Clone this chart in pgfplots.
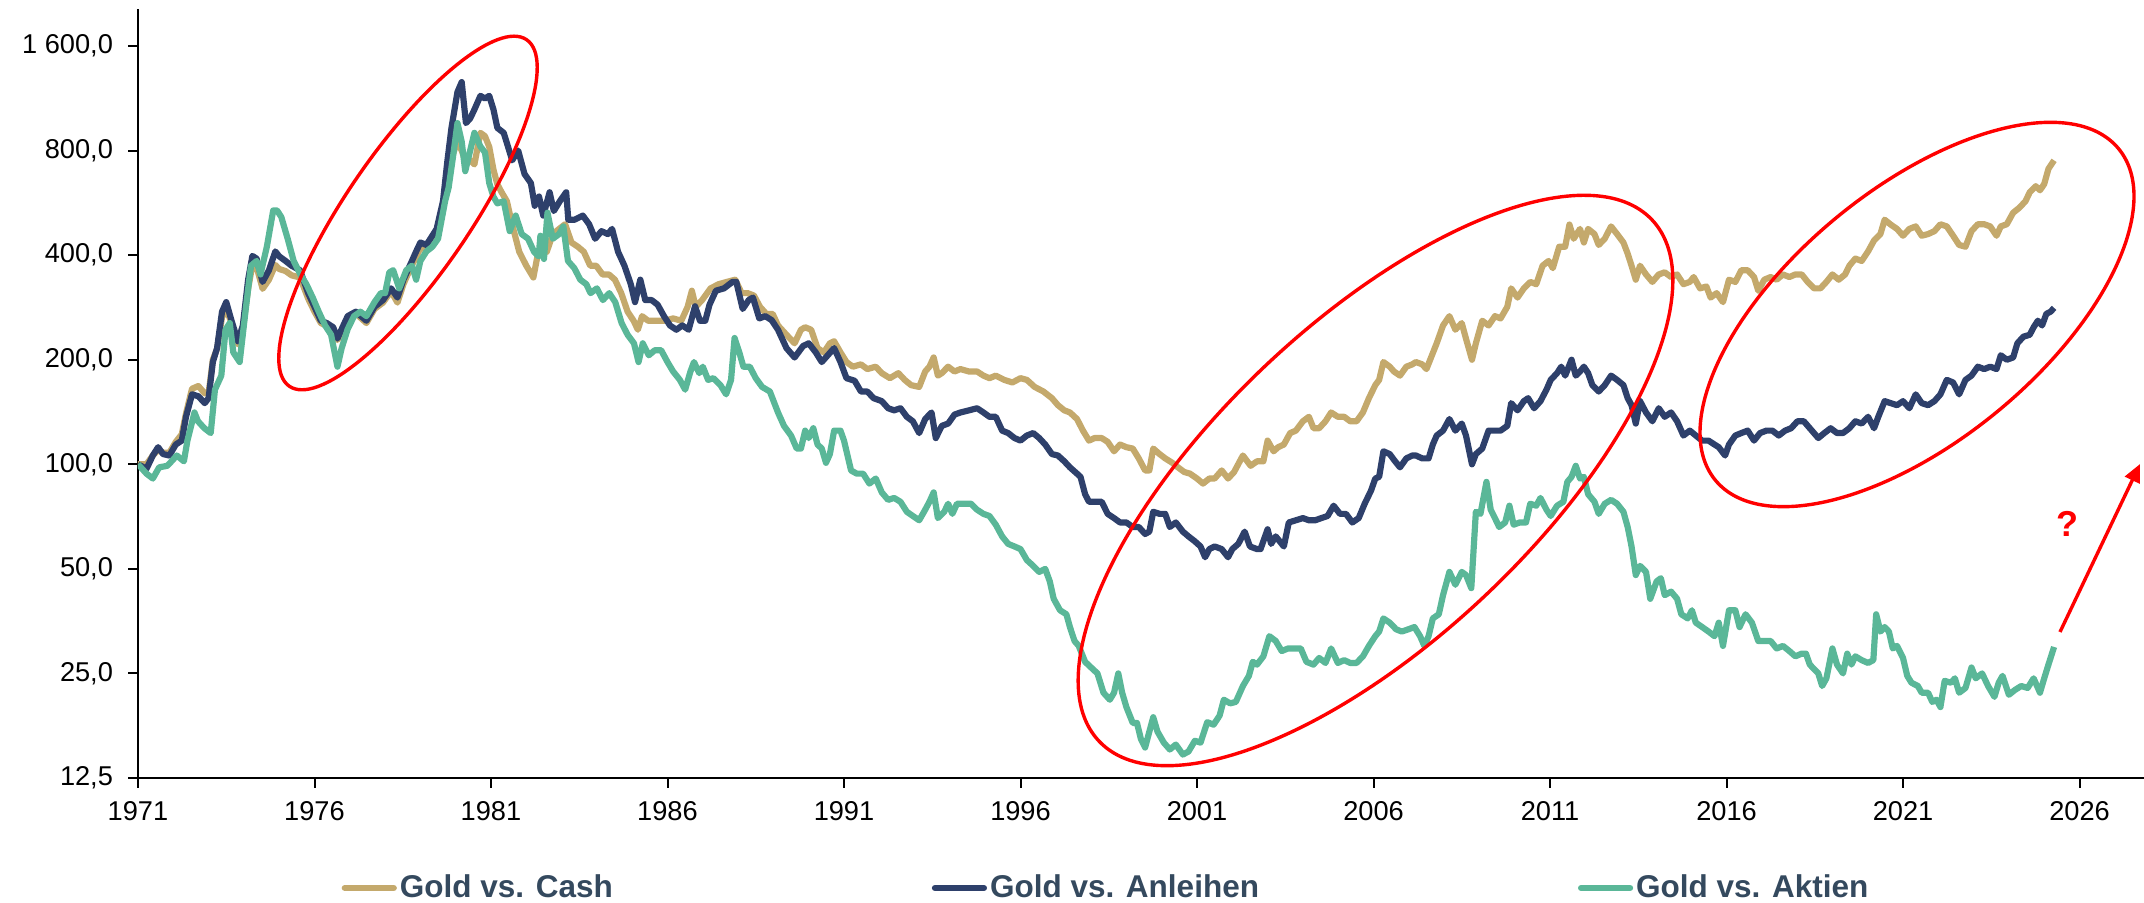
\documentclass[border=0pt]{standalone}
\usepackage{fontspec}
\setmainfont{Liberation Sans}
\usepackage{pgfplots}
\pgfplotsset{compat=1.18}
\usetikzlibrary{arrows.meta}

\definecolor{cashc}{RGB}{196,169,108}
\definecolor{bondc}{RGB}{46,64,107}
\definecolor{stockc}{RGB}{90,183,152}
\definecolor{legc}{RGB}{52,73,94}

\begin{document}
\begin{tikzpicture}
\path[use as bounding box] (-69pt,-62.5pt) rectangle (1003pt,389pt);
\begin{axis}[
    scale only axis,
    width=1003pt, height=384.6pt,
    xmin=1971, xmax=2027.83,
    ymode=log, log basis y=2,
    ymin=12.5, ymax=2048,
    axis lines*=left,
    axis line style={black, line width=1pt},
    tick style={black, line width=1pt},
    major tick length=5pt,
    tick align=outside,
    yminorticks=false, xminorticks=false,
    xtick={1971,1976,1981,1986,1991,1996,2001,2006,2011,2016,2021,2026},
    xticklabels={1971,1976,1981,1986,1991,1996,2001,2006,2011,2016,2021,2026},
    ytick={12.5,25,50,100,200,400,800,1600},
    yticklabels={{12,5},{25,0},{50,0},{100,0},{200,0},{400,0},{800,0},{1 600,0}},
    ticklabel style={font=\fontsize{13.6}{15}\selectfont},
    yticklabel style={xshift=-4pt},
    xticklabel style={yshift=-3pt},
    every axis plot/.append style={line width=3.1pt, line join=round, no markers},
    legend style={at={(0.4828,-0.143)}, anchor=center, draw=none, fill=none,
        legend columns=3, inner sep=0pt,
        font=\bfseries\fontsize{15.75}{18}\selectfont, text=legc,
        nodes={inner sep=1.5pt},
        /tikz/every even column/.append style={column sep=158pt}},
    legend image code/.code={\draw[#1, line cap=round] (0pt,0pt) -- (24.5pt,0pt);},
]
% Gold vs. Cash
\addplot[cashc] table {
1971.00 100
1971.24 100
1971.42 106
1971.57 110
1971.71 108
1971.89 108
1972.07 116
1972.24 122
1972.36 140
1972.53 165
1972.71 168
1972.89 160
1973.00 160
1973.12 200
1973.24 215
1973.38 265
1973.50 280
1973.65 255
1973.83 222
1973.97 245
1974.12 320
1974.24 375
1974.36 370
1974.53 320
1974.71 340
1974.89 375
1975.00 365
1975.18 360
1975.35 350
1975.59 345
1975.82 300
1976.00 275
1976.18 255
1976.35 250
1976.53 245
1976.65 228
1976.77 240
1976.94 262
1977.17 272
1977.47 255
1977.70 280
1977.94 292
1978.17 315
1978.35 292
1978.52 330
1978.76 375
1978.88 395
1979.00 420
1979.17 415
1979.46 455
1979.64 560
1979.76 650
1979.88 760
1980.05 850
1980.17 800
1980.29 740
1980.41 750
1980.53 730
1980.70 900
1980.83 880
1980.95 820
1981.07 705
1981.18 640
1981.30 607
1981.45 572
1981.60 490
1981.80 409
1982.00 373
1982.20 345
1982.34 409
1982.58 409
1982.75 460
1982.93 476
1983.10 491
1983.28 435
1983.46 423
1983.63 409
1983.81 373
1983.98 373
1984.16 352
1984.34 352
1984.51 340
1984.69 311
1984.87 275
1985.04 259
1985.16 244
1985.28 267
1985.45 259
1985.69 259
1985.92 259
1986.16 263
1986.39 259
1986.57 284
1986.69 316
1986.80 284
1986.98 297
1987.22 321
1987.45 330
1987.68 335
1987.92 340
1988.10 311
1988.27 311
1988.45 306
1988.62 284
1988.80 271
1988.98 271
1989.13 251
1989.37 236
1989.60 223
1989.78 244
1989.90 248
1990.07 244
1990.25 216
1990.43 210
1990.60 223
1990.72 226
1990.90 210
1991.07 197
1991.25 191
1991.48 194
1991.66 188
1991.90 191
1992.07 183
1992.30 177
1992.54 183
1992.72 175
1992.90 169
1993.13 167
1993.30 185
1993.42 191
1993.54 203
1993.66 180
1993.77 183
1993.95 191
1994.13 185
1994.30 188
1994.54 185
1994.77 185
1994.95 180
1995.12 177
1995.30 180
1995.54 175
1995.77 172
1996.00 177
1996.18 175
1996.40 167
1996.65 162
1996.89 155
1997.06 148
1997.24 143
1997.40 141
1997.60 135
1997.77 125
1997.94 117
1998.10 119
1998.30 119
1998.47 116
1998.65 109
1998.82 114
1999.00 112
1999.18 111
1999.35 104
1999.53 96
1999.65 96
1999.76 111
1999.94 107
2000.10 104
2000.30 101
2000.46 98
2000.64 95
2000.80 94
2001.00 91
2001.17 88
2001.35 91
2001.50 91
2001.70 96
2001.88 91
2002.05 95
2002.30 106
2002.52 99
2002.70 102
2002.88 102
2003.00 117
2003.17 109
2003.30 112
2003.46 114
2003.64 123
2003.80 125
2004.00 133
2004.17 137
2004.30 127
2004.46 127
2004.64 133
2004.80 141
2004.99 137
2005.17 137
2005.34 133
2005.52 133
2005.70 141
2005.87 155
2006.05 169
2006.16 175
2006.28 197
2006.46 191
2006.58 185
2006.75 180
2006.93 191
2007.10 194
2007.20 197
2007.38 194
2007.50 188
2007.68 209
2007.79 223
2007.97 251
2008.15 267
2008.32 244
2008.50 255
2008.62 230
2008.79 200
2008.90 223
2009.08 259
2009.26 251
2009.44 267
2009.60 263
2009.79 284
2009.90 321
2010.08 302
2010.26 321
2010.44 335
2010.61 330
2010.79 373
2010.96 385
2011.08 367
2011.26 423
2011.43 423
2011.55 490
2011.67 446
2011.85 476
2011.96 435
2012.08 476
2012.26 460
2012.38 428
2012.55 446
2012.73 484
2012.90 460
2013.08 435
2013.20 404
2013.31 373
2013.43 340
2013.55 373
2013.72 352
2013.90 335
2014.08 352
2014.25 357
2014.43 346
2014.60 352
2014.78 330
2014.96 335
2015.07 346
2015.25 321
2015.43 325
2015.55 302
2015.72 311
2015.90 293
2016.07 340
2016.25 335
2016.42 362
2016.60 362
2016.78 346
2016.90 316
2017.07 340
2017.25 346
2017.42 340
2017.60 352
2017.78 346
2017.95 352
2018.13 352
2018.30 335
2018.48 321
2018.66 321
2018.83 335
2019.00 352
2019.18 340
2019.36 352
2019.48 373
2019.65 391
2019.83 385
2020.01 410
2020.18 441
2020.36 460
2020.48 506
2020.65 490
2020.83 476
2021.00 455
2021.18 476
2021.36 484
2021.53 455
2021.71 460
2021.89 469
2022.06 491
2022.24 484
2022.42 455
2022.59 428
2022.77 423
2022.94 469
2023.12 491
2023.30 491
2023.47 484
2023.65 455
2023.77 484
2023.94 491
2024.12 530
2024.29 547
2024.47 572
2024.59 607
2024.76 632
2024.88 615
2025.00 641
2025.12 709
2025.28 750
};
\addlegendentry{Gold vs. Cash}
% Gold vs. Anleihen
\addplot[bondc] table {
1971.00 100
1971.24 97
1971.42 106
1971.57 112
1971.71 107
1971.89 106
1972.07 114
1972.24 117
1972.36 137
1972.53 159
1972.71 157
1972.89 150
1973.00 155
1973.12 197
1973.24 216
1973.38 275
1973.50 293
1973.65 259
1973.83 226
1973.97 251
1974.12 340
1974.24 398
1974.36 391
1974.53 335
1974.71 362
1974.89 410
1975.00 397
1975.18 385
1975.35 373
1975.59 362
1975.82 311
1976.00 284
1976.18 259
1976.35 255
1976.53 248
1976.65 230
1976.77 245
1976.94 267
1977.17 275
1977.47 259
1977.70 284
1977.94 297
1978.17 321
1978.35 302
1978.52 340
1978.76 385
1978.88 410
1979.00 435
1979.17 428
1979.46 476
1979.64 572
1979.76 740
1979.88 930
1980.05 1180
1980.17 1260
1980.29 960
1980.41 990
1980.53 1050
1980.70 1150
1980.83 1130
1980.95 1150
1981.07 1050
1981.18 930
1981.36 900
1981.48 822
1981.60 750
1981.77 800
1981.95 685
1982.13 645
1982.24 555
1982.36 590
1982.48 520
1982.66 607
1982.78 536
1982.95 572
1983.13 607
1983.19 506
1983.37 506
1983.60 520
1983.78 491
1983.95 446
1984.13 469
1984.31 460
1984.43 476
1984.60 409
1984.78 373
1984.96 330
1985.08 293
1985.23 340
1985.37 297
1985.55 297
1985.72 288
1985.90 267
1986.07 251
1986.25 244
1986.42 251
1986.60 244
1986.78 285
1986.92 259
1987.07 259
1987.19 288
1987.37 316
1987.60 321
1987.84 335
1987.95 335
1988.13 280
1988.30 297
1988.42 302
1988.60 263
1988.77 267
1988.95 260
1989.13 244
1989.37 216
1989.60 203
1989.84 219
1990.00 223
1990.20 210
1990.37 197
1990.54 206
1990.72 216
1990.90 197
1991.07 177
1991.30 174
1991.48 162
1991.66 162
1991.84 155
1992.07 152
1992.25 145
1992.42 143
1992.60 145
1992.78 137
1992.95 133
1993.13 123
1993.30 135
1993.48 141
1993.60 119
1993.77 129
1993.95 131
1994.13 139
1994.30 141
1994.54 143
1994.77 145
1994.95 141
1995.12 137
1995.30 137
1995.48 125
1995.65 123
1995.83 119
1996.00 117
1996.18 121
1996.36 123
1996.53 119
1996.70 114
1996.89 107
1997.06 106
1997.24 102
1997.40 98
1997.60 94
1997.70 92
1997.83 82
1997.94 78
1998.10 78
1998.30 78
1998.47 72
1998.65 70
1998.82 68
1999.00 68
1999.18 66
1999.35 66
1999.53 63
1999.65 64
1999.76 73
1999.94 72
2000.10 72
2000.23 66
2000.40 68
2000.60 64
2000.76 62
2000.94 60
2001.10 58
2001.23 54
2001.35 57
2001.50 58
2001.70 57
2001.88 54
2002.00 57
2002.17 59
2002.35 64
2002.50 58
2002.70 57
2002.80 57
2003.00 65
2003.10 59
2003.23 62
2003.46 58
2003.60 68
2003.80 69
2004.00 70
2004.17 69
2004.35 69
2004.52 70
2004.70 71
2004.87 76
2005.05 72
2005.22 72
2005.40 68
2005.58 70
2005.75 77
2005.93 84
2006.05 91
2006.16 92
2006.28 109
2006.46 107
2006.58 103
2006.75 98
2006.93 104
2007.10 106
2007.20 106
2007.38 104
2007.56 104
2007.68 114
2007.79 121
2007.97 125
2008.15 135
2008.32 125
2008.50 131
2008.62 121
2008.79 100
2008.90 107
2009.08 111
2009.26 125
2009.44 125
2009.60 125
2009.79 129
2009.90 150
2010.08 143
2010.26 152
2010.38 155
2010.55 145
2010.73 152
2010.90 164
2011.02 175
2011.20 183
2011.32 191
2011.43 180
2011.61 200
2011.73 180
2011.85 185
2011.96 191
2012.08 183
2012.20 169
2012.38 162
2012.55 169
2012.73 180
2012.90 175
2013.08 169
2013.20 155
2013.31 148
2013.43 131
2013.55 152
2013.72 141
2013.90 133
2014.08 145
2014.25 137
2014.43 141
2014.60 133
2014.78 121
2014.96 125
2015.13 121
2015.31 117
2015.49 117
2015.66 114
2015.78 112
2015.96 106
2016.07 114
2016.25 121
2016.42 123
2016.60 125
2016.78 117
2016.95 123
2017.13 125
2017.30 125
2017.48 121
2017.66 125
2017.83 127
2018.01 133
2018.19 133
2018.36 127
2018.60 119
2018.77 123
2018.95 127
2019.13 123
2019.30 123
2019.48 127
2019.65 133
2019.83 131
2020.01 137
2020.18 127
2020.30 137
2020.48 152
2020.65 150
2020.83 148
2021.00 152
2021.18 145
2021.36 159
2021.53 150
2021.71 148
2021.89 152
2022.06 159
2022.24 175
2022.42 172
2022.59 159
2022.77 175
2022.94 180
2023.12 191
2023.30 188
2023.47 191
2023.65 188
2023.77 206
2023.94 200
2024.12 203
2024.24 223
2024.41 233
2024.59 236
2024.70 248
2024.82 259
2024.94 251
2025.06 271
2025.18 275
2025.28 282
};
\addlegendentry{Gold vs. Anleihen}
% Gold vs. Aktien
\addplot[stockc] table {
1971.00 100
1971.24 94
1971.42 91
1971.60 98
1971.83 99
1971.95 102
1972.10 106
1972.30 102
1972.40 117
1972.60 141
1972.70 133
1972.88 127
1973.06 123
1973.18 164
1973.36 180
1973.48 244
1973.60 255
1973.70 210
1973.88 197
1974.06 284
1974.20 373
1974.36 385
1974.47 352
1974.65 423
1974.83 538
1974.94 538
1975.06 515
1975.24 446
1975.41 385
1975.60 352
1975.77 330
1975.95 302
1976.12 275
1976.30 251
1976.47 236
1976.65 191
1976.77 216
1976.94 245
1977.12 267
1977.30 275
1977.47 267
1977.70 293
1977.88 311
1978.00 311
1978.12 357
1978.23 362
1978.40 321
1978.60 362
1978.76 373
1978.88 340
1979.00 385
1979.17 410
1979.34 423
1979.50 446
1979.70 572
1979.80 626
1979.93 776
1980.05 960
1980.17 849
1980.27 698
1980.41 800
1980.53 900
1980.70 822
1980.83 790
1980.95 645
1981.07 589
1981.18 564
1981.36 572
1981.53 469
1981.70 520
1981.87 460
1982.05 446
1982.22 409
1982.35 397
1982.40 455
1982.50 390
1982.60 530
1982.75 446
1982.93 460
1983.05 484
1983.18 385
1983.36 367
1983.53 340
1983.70 330
1983.82 311
1984.00 321
1984.17 297
1984.35 311
1984.52 293
1984.70 255
1984.87 236
1985.05 223
1985.18 197
1985.30 223
1985.47 206
1985.64 213
1985.82 213
1986.00 197
1986.16 185
1986.35 175
1986.50 164
1986.65 185
1986.75 197
1986.90 183
1987.00 191
1987.15 175
1987.30 177
1987.50 169
1987.66 159
1987.80 175
1987.90 231
1988.04 209
1988.15 191
1988.33 191
1988.50 177
1988.68 167
1988.90 162
1989.13 141
1989.30 129
1989.50 121
1989.66 111
1989.78 111
1989.90 125
1990.00 119
1990.13 127
1990.25 114
1990.37 111
1990.49 101
1990.60 107
1990.72 125
1990.90 125
1991.00 117
1991.20 96
1991.36 94
1991.54 94
1991.72 88
1991.90 91
1992.07 83
1992.25 79
1992.42 80
1992.60 78
1992.78 73
1992.95 71
1993.13 69
1993.30 74
1993.42 78
1993.54 83
1993.66 70
1993.84 73
1993.95 77
1994.07 72
1994.20 77
1994.42 77
1994.60 77
1994.77 74
1994.95 72
1995.12 71
1995.30 67
1995.48 62
1995.65 59
1995.83 58
1996.00 57
1996.18 53
1996.36 51
1996.53 49
1996.70 50
1996.83 46
1996.94 41
1997.12 38
1997.30 37
1997.40 34
1997.53 31
1997.65 30
1997.83 27
1998.00 26
1998.18 25
1998.35 22
1998.53 21
1998.65 22
1998.77 25
1998.88 22
1999.00 20
1999.18 18
1999.30 18
1999.41 16.2
1999.53 15.3
1999.65 17
1999.76 18.7
1999.88 17
2000.06 15.8
2000.23 15.1
2000.40 15.6
2000.60 14.6
2000.76 14.9
2000.94 16
2001.10 15.8
2001.29 18.1
2001.47 17.8
2001.64 18.9
2001.76 21
2001.94 20.5
2002.10 20.7
2002.30 23
2002.47 24.6
2002.58 27
2002.70 26.5
2002.88 28
2003.05 32
2003.23 31
2003.40 29
2003.58 29.5
2003.76 29.5
2003.94 29.5
2004.10 27
2004.30 26.5
2004.46 27.7
2004.64 26.8
2004.80 29.5
2004.99 26.8
2005.17 27.3
2005.34 26.8
2005.52 26.8
2005.70 28
2005.87 30
2006.05 32
2006.16 33
2006.28 36
2006.46 35
2006.64 33.5
2006.80 33
2006.99 33.5
2007.16 34
2007.32 32
2007.44 30
2007.56 32
2007.68 36
2007.85 37
2007.97 42
2008.15 49
2008.32 45
2008.50 49
2008.62 48
2008.77 44
2008.90 73
2009.03 72
2009.20 89
2009.32 74
2009.44 70
2009.56 66
2009.73 68
2009.85 76
2009.97 67
2010.14 68
2010.32 68
2010.44 77
2010.61 76
2010.73 80
2010.90 74
2011.02 71
2011.20 76
2011.38 78
2011.49 89
2011.61 92
2011.73 99
2011.85 91
2011.96 92
2012.08 82
2012.26 78
2012.38 72
2012.55 77
2012.73 79
2012.90 77
2013.08 73
2013.20 66
2013.31 58
2013.43 48
2013.55 51
2013.72 49
2013.84 41
2014.02 46
2014.14 47
2014.25 42
2014.43 43
2014.60 41
2014.72 37
2014.90 36
2015.02 38
2015.13 35
2015.31 34
2015.49 33
2015.66 32
2015.78 35
2015.90 30
2016.07 38
2016.25 38
2016.37 34
2016.54 37
2016.72 35
2016.90 31
2017.07 31
2017.25 31
2017.42 29.5
2017.60 30
2017.78 29
2017.95 28
2018.13 28.5
2018.25 28.5
2018.36 26.5
2018.60 25
2018.71 23
2018.83 24.2
2019.00 29.5
2019.13 26.5
2019.30 25
2019.42 28.5
2019.54 26.5
2019.65 28
2019.83 27.3
2020.01 26.8
2020.16 27.3
2020.24 37
2020.36 33
2020.48 34
2020.60 33
2020.71 29.5
2020.83 30
2021.00 27.7
2021.12 24.6
2021.24 23.5
2021.42 23
2021.53 22
2021.71 22
2021.83 20.7
2021.95 21
2022.06 20
2022.18 23.8
2022.36 23.5
2022.47 24.2
2022.59 22
2022.77 22.7
2022.94 26
2023.06 24.2
2023.24 25
2023.41 23
2023.59 21.4
2023.71 23.5
2023.82 24.6
2024.00 21.7
2024.17 22.4
2024.35 23
2024.53 22.7
2024.70 24.2
2024.88 22
2025.00 24.2
2025.12 26.5
2025.28 29.8
};
\addlegendentry{Gold vs. Aktien}
\end{axis}
% red annotations
\begin{scope}[red, line width=1.7pt]
\draw[rotate around={55.6:(135pt,282.5pt)}] (135pt,282.5pt) ellipse (105pt and 31pt);
\draw[rotate around={43.3:(618.75pt,148.75pt)}] (618.75pt,148.75pt) ellipse (190pt and 79.5pt);
\draw[rotate around={39.4:(889.5pt,231.75pt)}] (889.5pt,231.75pt) ellipse (130.5pt and 63pt);
\draw[-{Triangle[length=9pt,width=8pt]}] (961pt,73pt) -- (1001pt,157pt);
\node[text=red, font=\bfseries\fontsize{18}{18}\selectfont] at (964.5pt,127pt) {?};
\end{scope}
\end{tikzpicture}
\end{document}
